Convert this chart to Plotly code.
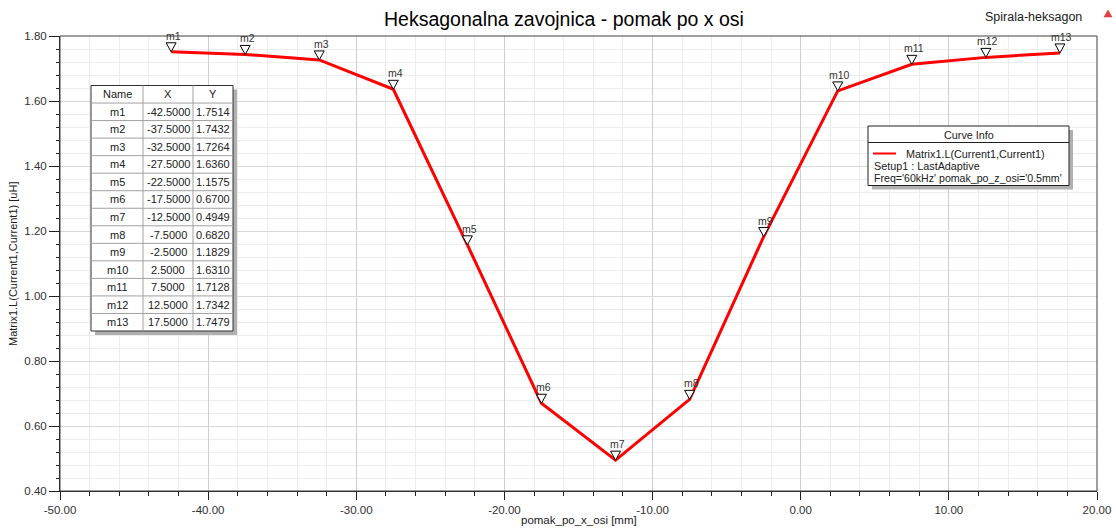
import plotly.graph_objects as go

# Marker data: position along x [mm] and inductance [uH]
marker_names = ["m1", "m2", "m3", "m4", "m5", "m6", "m7", "m8", "m9", "m10", "m11", "m12", "m13"]
pomak_x = [-42.5, -37.5, -32.5, -27.5, -22.5, -17.5, -12.5, -7.5, -2.5, 2.5, 7.5, 12.5, 17.5]
induktivitet = [1.7514, 1.7432, 1.7264, 1.6360, 1.1575, 0.6700, 0.4949, 0.6820,
                1.1829, 1.6310, 1.7128, 1.7342, 1.7479]

x_ticks = [-50, -40, -30, -20, -10, 0, 10, 20]
y_ticks = [0.40, 0.60, 0.80, 1.00, 1.20, 1.40, 1.60, 1.80]

W_FIG, H_FIG = 1116, 531
L, R, T, B = 60, 19, 36, 40
PW, PH = W_FIG - L - R, H_FIG - T - B
FONT = "Liberation Sans, Arial, sans-serif"


def xp(px):
    return (px - L) / PW


def yp(py):
    return 1 - (py - T) / PH


def label(px, py, text, size, color="#202020", anchor="center", angle=0):
    return dict(x=xp(px), y=yp(py), xref="paper", yref="paper", text=text,
                showarrow=False, xanchor=anchor, yanchor="middle", textangle=angle,
                font=dict(family=FONT, size=size, color=color))


fig = go.Figure()

fig.add_trace(go.Scatter(
    x=pomak_x, y=induktivitet, mode="lines",
    line=dict(color="#ff0000", width=3),
    showlegend=False, hoverinfo="x+y",
))

shapes = []
annotations = []

# Marker triangles (tip at the data point) and their labels
for name, xv, yv in zip(marker_names, pomak_x, induktivitet):
    shapes.append(dict(
        type="path", xref="x", yref="y", xsizemode="pixel", ysizemode="pixel",
        xanchor=xv, yanchor=yv, path="M -5 9 L 5 9 L 0 0 Z",
        fillcolor="white", line=dict(color="black", width=1), layer="above",
    ))
    annotations.append(dict(
        x=xv, y=yv, xref="x", yref="y", text=name, showarrow=False,
        xanchor="center", yanchor="middle",
        xshift=2, yshift=16, font=dict(family=FONT, size=10.5, color="#333333"),
    ))

# Plot frame (top and right edges)
shapes.append(dict(type="rect", xref="paper", yref="paper", x0=0, x1=1, y0=0, y1=1,
                   line=dict(color="#404040", width=1), layer="above"))

# Marker table
col_edges = [91, 143, 193, 233]
tab_l, tab_r = col_edges[0], col_edges[-1]
tab_t, tab_b = 85.5, 331
n_rows = len(marker_names) + 1
row_h = (tab_b - tab_t) / n_rows
shapes.append(dict(type="rect", xref="paper", yref="paper",
                   x0=xp(tab_l + 4), x1=xp(tab_r + 4), y0=yp(tab_b + 4), y1=yp(tab_t + 4),
                   fillcolor="#b0b0b0", line=dict(width=0), layer="above"))
shapes.append(dict(type="rect", xref="paper", yref="paper",
                   x0=xp(tab_l), x1=xp(tab_r), y0=yp(tab_b), y1=yp(tab_t),
                   fillcolor="white", line=dict(color="#303030", width=1), layer="above"))
for i in range(1, n_rows):
    yy = tab_t + i * row_h
    shapes.append(dict(type="line", xref="paper", yref="paper",
                       x0=xp(tab_l), x1=xp(tab_r), y0=yp(yy), y1=yp(yy),
                       line=dict(color="#a0a0a0", width=1), layer="above"))
for cx in col_edges[1:-1]:
    shapes.append(dict(type="line", xref="paper", yref="paper",
                       x0=xp(cx), x1=xp(cx), y0=yp(tab_b), y1=yp(tab_t),
                       line=dict(color="#a0a0a0", width=1), layer="above"))

table_rows = [["Name", "X", "Y"]] + [
    [n, f"{xv:.4f}", f"{yv:.4f}"] for n, xv, yv in zip(marker_names, pomak_x, induktivitet)
]
for r, row in enumerate(table_rows):
    cy = tab_t + (r + 0.5) * row_h
    for c, txt in enumerate(row):
        cx = (col_edges[c] + col_edges[c + 1]) / 2
        annotations.append(label(cx, cy, txt, 11))

# Curve info box
ci_l, ci_r, ci_t, ci_b, ci_h = 868, 1069, 126, 185.5, 142.5
shapes.append(dict(type="rect", xref="paper", yref="paper",
                   x0=xp(ci_l + 4), x1=xp(ci_r + 4), y0=yp(ci_b + 4), y1=yp(ci_t + 4),
                   fillcolor="#b0b0b0", line=dict(width=0), layer="above"))
shapes.append(dict(type="rect", xref="paper", yref="paper",
                   x0=xp(ci_l), x1=xp(ci_r), y0=yp(ci_b), y1=yp(ci_t),
                   fillcolor="white", line=dict(color="#202020", width=1), layer="above"))
shapes.append(dict(type="line", xref="paper", yref="paper",
                   x0=xp(ci_l), x1=xp(ci_r), y0=yp(ci_h), y1=yp(ci_h),
                   line=dict(color="#202020", width=1), layer="above"))
shapes.append(dict(type="line", xref="paper", yref="paper",
                   x0=xp(873), x1=xp(896), y0=yp(153.5), y1=yp(153.5),
                   line=dict(color="#ff0000", width=2), layer="above"))
annotations += [
    label(969, 134.5, "Curve Info", 10.8),
    label(904, 153.5, "Matrix1.L(Current1,Current1)", 10.8, anchor="left"),
    label(872, 165.5, "Setup1 : LastAdaptive", 10.8, anchor="left"),
    label(872, 177.5, "Freq='60kHz' pomak_po_z_osi='0.5mm'", 10.6, anchor="left"),
]

# Header and axis titles
annotations += [
    label(564, 19, "Heksagonalna zavojnica - pomak po x osi", 19.5, color="#000000"),
    label(1084, 17, "Spirala-heksagon", 12.5, anchor="right"),
    label(579, 520, "pomak_po_x_osi [mm]", 11.5),
    label(13, 264, "Matrix1.L(Current1,Current1) [uH]", 11, angle=-90),
]
# Small red icon beside the project name
shapes.append(dict(type="path", xref="paper", yref="paper",
                   path=f"M {xp(1104)} {yp(17)} L {xp(1112)} {yp(17)} L {xp(1108)} {yp(10)} Z",
                   fillcolor="#e04040", line=dict(color="#c03030", width=0.5), layer="above"))

fig.update_layout(
    width=W_FIG, height=H_FIG,
    margin=dict(l=L, r=R, t=T, b=B, autoexpand=False),
    paper_bgcolor="white", plot_bgcolor="white",
    font=dict(family=FONT, size=11, color="#303030"),
    shapes=shapes, annotations=annotations, showlegend=False,
)
fig.update_xaxes(
    range=[-50, 20], tickvals=x_ticks, ticktext=[f"{v:.2f}" for v in x_ticks],
    showgrid=True, gridcolor="#cfcfcf", gridwidth=1,
    ticks="outside", ticklen=8, tickcolor="#202020",
    showline=True, linecolor="#202020", linewidth=1, zeroline=False,
    minor=dict(dtick=2, showgrid=True, gridcolor="#ececec", ticks="outside",
               ticklen=4, tickcolor="#202020"),
    tickfont=dict(family=FONT, size=11.5, color="#303030"),
)
fig.update_yaxes(
    range=[0.4, 1.8], tickvals=y_ticks, ticktext=[f"{v:.2f}" for v in y_ticks],
    showgrid=True, gridcolor="#d8d8d8", gridwidth=1,
    ticks="outside", ticklen=10, tickcolor="#202020",
    showline=True, linecolor="#202020", linewidth=1, zeroline=False,
    minor=dict(dtick=0.04, showgrid=True, gridcolor="#ececec", ticks="outside",
               ticklen=3, tickcolor="#202020"),
    tickfont=dict(family=FONT, size=11.5, color="#303030"),
)

fig.write_html("out.html")
